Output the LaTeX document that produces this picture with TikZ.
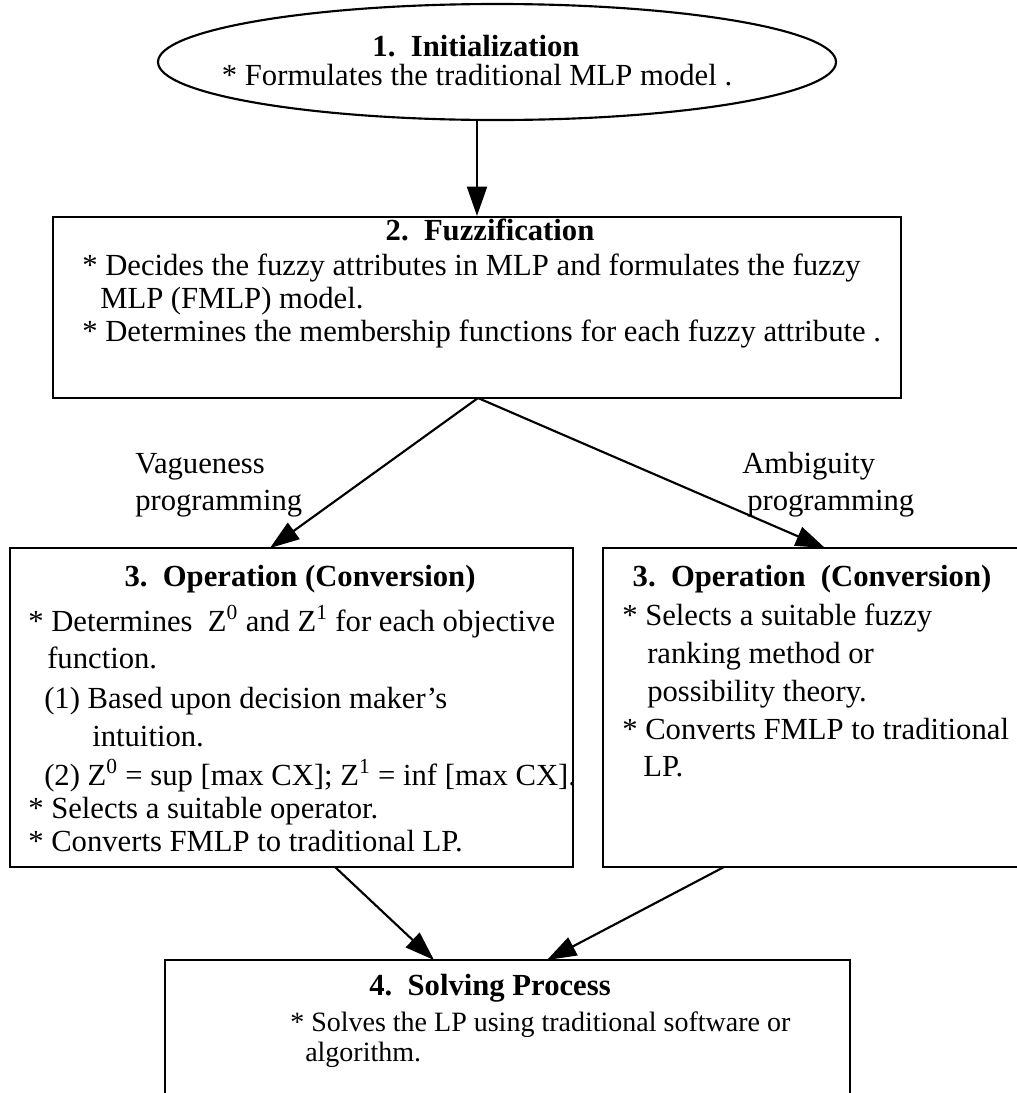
\documentclass[tikz,border=0pt]{standalone}
\usepackage{fontspec}
\setmainfont{Liberation Serif}
\usetikzlibrary{arrows.meta,shapes.geometric}
\tikzset{
  every node/.style={font=\fontsize{23}{27}\selectfont, inner sep=0pt},
  boxst/.style={draw, line width=1.6pt, rectangle, inner sep=0pt},
  ttl/.style={font=\fontsize{23}{27}\selectfont\bfseries, text height=17pt, text depth=4pt},
  ln/.style={anchor=west, text height=17pt, text depth=4pt},
  sm/.style={font=\fontsize{21}{25}\selectfont},
  ct/.style={text height=17pt, text depth=4pt},
  conn/.style={line width=1.6pt, -{Triangle[length=22pt,width=15pt]}}
}
\begin{document}
\begin{tikzpicture}[x=0.75pt,y=-0.75pt]
\useasboundingbox (0,0) rectangle (1017,1093);
\clip (0,0) rectangle (1017,1093);
% shapes
\node[draw, ellipse, line width=1.6pt, minimum width=508.5pt, minimum height=87pt] (e) at (497,62) {};
\node[boxst, minimum width=636pt, minimum height=135.75pt] (b2) at (477,307.5) {};
\node[boxst, minimum width=422.25pt, minimum height=239.25pt] (b3l) at (291.5,707.5) {};
\node[boxst, minimum width=315pt, minimum height=239.25pt] (b3r) at (813,707.5) {};
\node[boxst, minimum width=513.75pt, minimum height=108.75pt] (b4) at (507.5,1032.5) {};
% texts
\node[ttl] (t1) at (476,48) {1.\ \ Initialization};
\node[ct] (t1a) at (477,77) {* Formulates the traditional MLP model .};
\node[ttl] (t2) at (490,232) {2.\ \ Fuzzification};
\node[ln] (t2a) at (82,267) {* Decides the fuzzy attributes in MLP and formulates the fuzzy};
\node[ln] (t2b) at (100,300) {MLP (FMLP) model.};
\node[ln] (t2c) at (82,333) {* Determines the membership functions for each fuzzy attribute .};
\node[ttl] (t3l) at (300,578) {3.\ \ Operation (Conversion)};
\node[ln] (l1) at (28,623) {* Determines\ \ Z\textsuperscript{0} and Z\textsuperscript{1} for each objective};
\node[ln] (l2) at (47,660) {function.};
\node[ln] (l3) at (44,700) {(1) Based upon decision maker's};
\node[ln] (l4) at (92,738) {intuition.};
\node[ln] (l5) at (44,777) {(2) Z\textsuperscript{0} = sup [max CX]; Z\textsuperscript{1} = inf [max CX].};
\node[ln] (l6) at (28,810) {* Selects a suitable operator.};
\node[ln] (l7) at (28,843) {* Converts FMLP to traditional LP.};
\node[ttl] (t3r) at (812,578) {3.\ \ Operation\ \ (Conversion)};
\node[ln] (r1) at (622,617) {* Selects a suitable fuzzy};
\node[ln] (r2) at (647,655) {ranking method or};
\node[ln] (r3) at (647,693) {possibility theory.};
\node[ln] (r4) at (622,731) {* Converts FMLP to traditional};
\node[ln] (r5) at (643,768) {LP.};
\node[ttl] (t4) at (490,987) {4.\ \ Solving Process};
\node[ln,sm] (s1) at (290,1023) {* Solves the LP using traditional software or};
\node[ln,sm] (s2) at (305,1053) {algorithm.};
\node[ln] (lv1) at (135,465) {Vagueness};
\node[ln] (lv2) at (135,502) {programming};
\node[ln] (la1) at (742,465) {Ambiguity};
\node[ln] (la2) at (747,502) {programming};
% connector ends
\coordinate (apex) at (478,398);
\coordinate (tl) at (270,548);
\coordinate (tr) at (825,548);
\coordinate (sl) at (335,867);
\coordinate (el) at (434,960);
\coordinate (sr) at (724,867);
\coordinate (er) at (547,960);
% connectors
\draw[conn] (e.south -| t1a) -- (b2.north -| t1a);
\draw[conn] (apex) -- (tl);
\draw[conn] (apex) -- (tr);
\draw[conn] (sl) -- (el);
\draw[conn] (sr) -- (er);
\end{tikzpicture}
\end{document}
